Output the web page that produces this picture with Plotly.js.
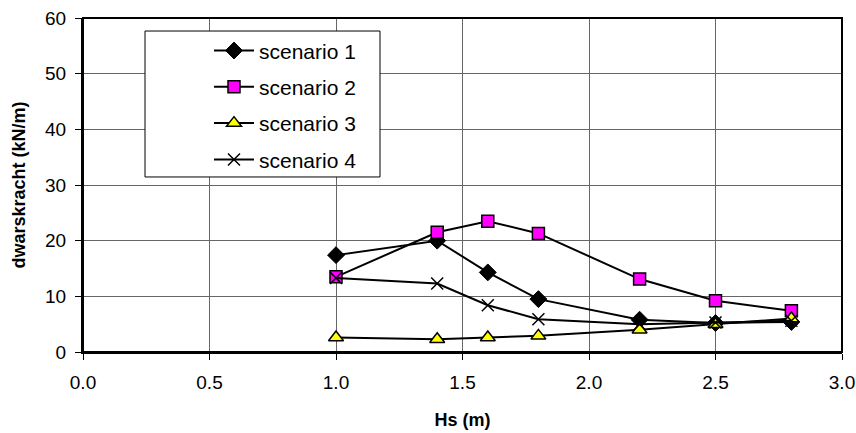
<!DOCTYPE html>
<html>
<head>
<meta charset="utf-8">
<script src="https://cdn.plot.ly/plotly-3.0.1.min.js"></script>
<style>
  html, body { margin: 0; padding: 0; background: #fff; }
  #chart { width: 856px; height: 433px; }
</style>
</head>
<body>
<div id="chart"></div>
<script>
// Wave height Hs (m)
const hs = [1.0, 1.4, 1.6, 1.8, 2.2, 2.5, 2.8];

// Shear force (kN/m) per scenario
const scenario1 = [17.4, 20.0, 14.3, 9.5, 5.8, 5.2, 5.4];
const scenario2 = [13.5, 21.5, 23.5, 21.3, 13.1, 9.2, 7.4];
const scenario3 = [2.6, 2.3, 2.6, 2.9, 4.0, 5.0, 6.0];
const scenario4 = [13.3, 12.3, 8.4, 5.9, 5.0, 5.3, 5.6];

const seriesNames = ['scenario 1', 'scenario 2', 'scenario 3', 'scenario 4'];

const xTicks = [0, 0.5, 1.0, 1.5, 2.0, 2.5, 3.0];
const xTickText = ['0.0', '0.5', '1.0', '1.5', '2.0', '2.5', '3.0'];
const yTicks = [0, 10, 20, 30, 40, 50, 60];

const font = 'Arial, "Liberation Sans", sans-serif';

function trace(y, name, marker, group) {
  return {
    x: hs, y: y, name: name, type: 'scatter', mode: 'lines+markers',
    legendgroup: group,
    line: { color: '#000', width: 2 },
    marker: marker
  };
}

const data = [
  trace(scenario1, seriesNames[0],
    { symbol: 'diamond', size: 13, color: '#000', line: { color: '#000', width: 1 } }, 'g1'),
  trace(scenario2, seriesNames[1],
    { symbol: 'square', size: 12, color: '#ff00ff', line: { color: '#000', width: 1.5 } }, 'g2'),
  trace(scenario3, seriesNames[2],
    { symbol: 'triangle-up', size: 13, color: '#ffff00', line: { color: '#000', width: 1.5 } }, 'g3'),
  trace(scenario4, seriesNames[3],
    { symbol: 'x-thin', size: 12, color: '#000', line: { color: '#000', width: 1.5 } }, 'g4')
];

const layout = {
  width: 856, height: 433,
  margin: { l: 83, r: 14, t: 18, b: 81 },
  paper_bgcolor: '#fff', plot_bgcolor: '#fff',
  font: { family: font, size: 19, color: '#000' },
  showlegend: true,
  legend: {
    x: 0.166, y: 0.963, xanchor: 'left', yanchor: 'top',
    bgcolor: 'rgba(0,0,0,0)', borderwidth: 0,
    font: { family: font, size: 21, color: '#000' },
    tracegroupgap: 6,
    itemwidth: 40
  },
  xaxis: {
    range: [0, 3], tickvals: xTicks, ticktext: xTickText,
    showgrid: true, gridcolor: '#666', gridwidth: 1,
    zeroline: false, showline: true, linecolor: '#000', linewidth: 2,
    ticks: 'outside', ticklen: 6, tickcolor: '#000',
    ticklabelstandoff: 6,
    tickfont: { family: font, size: 19 },
    title: { text: '<b>Hs (m)</b>', font: { family: font, size: 18 }, standoff: 22 }
  },
  yaxis: {
    range: [0, 60], tickvals: yTicks,
    showgrid: true, gridcolor: '#666', gridwidth: 1,
    zeroline: false, showline: true, linecolor: '#000', linewidth: 2,
    ticks: 'outside', ticklen: 6, tickcolor: '#000',
    ticklabelstandoff: 5,
    tickfont: { family: font, size: 19 },
    title: { text: '<b>dwarskracht (kN/m)</b>', font: { family: font, size: 18 }, standoff: 15 }
  },
  shapes: [
    // plot frame
    { type: 'rect', xref: 'paper', yref: 'paper', x0: 0, x1: 1, y0: 0, y1: 1,
      line: { color: '#000', width: 2 }, fillcolor: 'rgba(0,0,0,0)' },
    // legend box
    { type: 'rect', xref: 'paper', yref: 'paper', layer: 'above',
      x0: 0.0817, x1: 0.3913, y0: 0.524, y1: 0.961,
      line: { color: '#000', width: 1 }, fillcolor: '#fff' }
  ]
};

Plotly.newPlot('chart', data, layout, { displayModeBar: false, staticPlot: true });
</script>
</body>
</html>
